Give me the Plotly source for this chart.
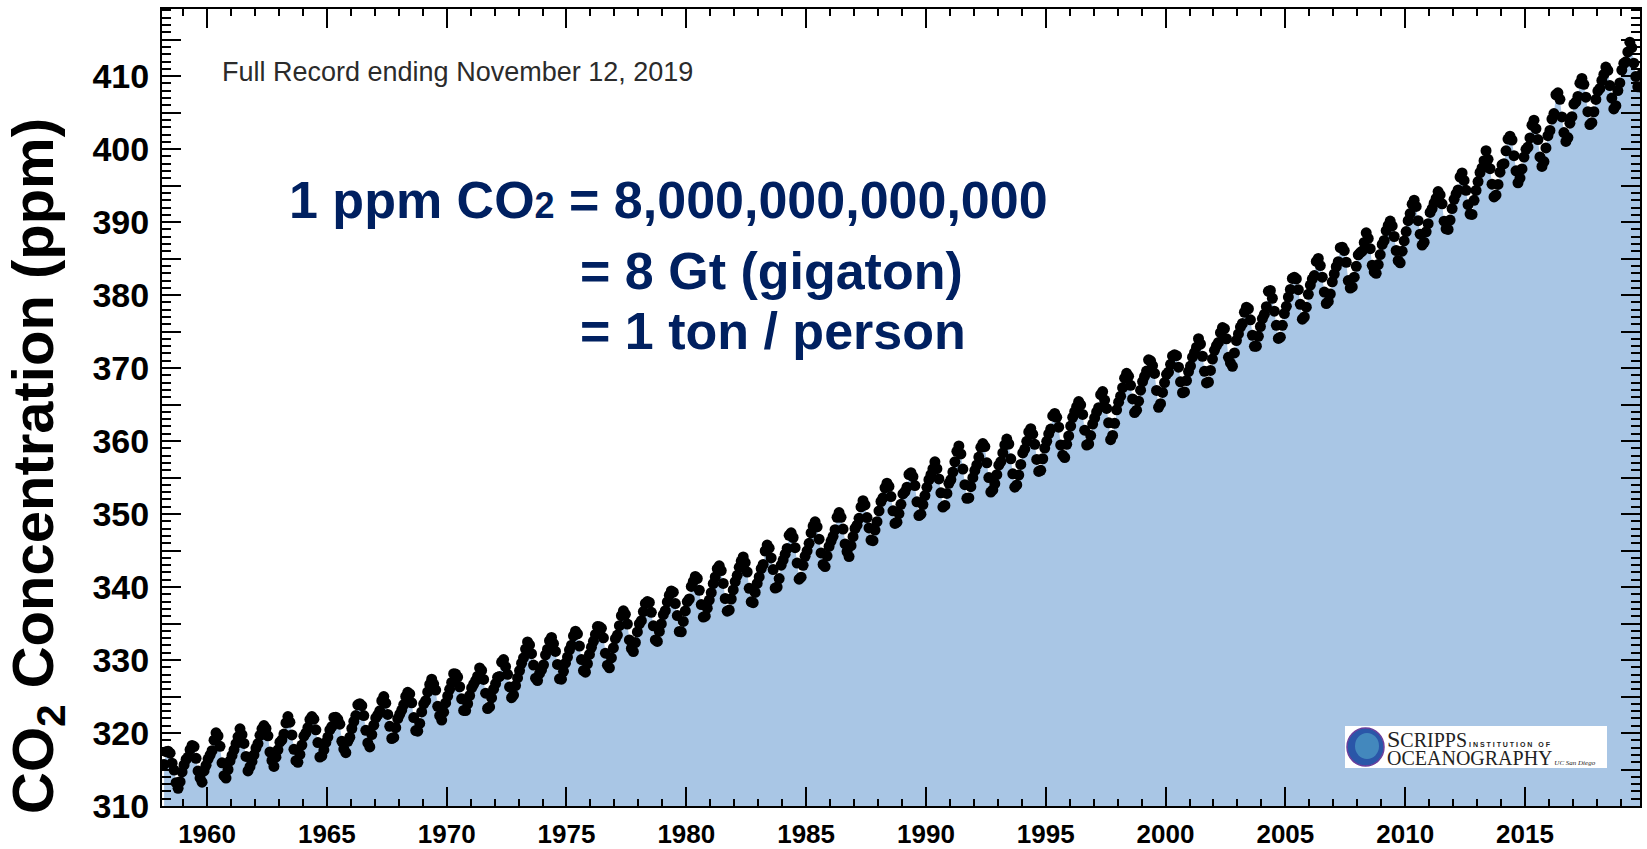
import plotly.graph_objects as go

# Monthly mean CO2 (ppm), Mauna Loa, starting March 1958
co2_1958_1959 = [315.70, 317.45, 317.51, 317.24, 315.86, 314.93, 313.20, 312.43, 313.33, 314.67,
                 315.62, 316.38, 316.71, 317.72, 318.29, 318.15, 316.54, 314.80, 313.84, 313.26, 314.80, 315.58]
co2_1960s = [316.43, 316.97, 317.58, 319.02, 320.03, 319.59, 318.18, 315.91, 314.16, 313.83, 315.00, 316.19,
             316.93, 317.70, 318.54, 319.48, 320.58, 319.77, 318.57, 316.79, 314.80, 315.38, 316.10, 317.01,
             317.94, 318.55, 319.68, 320.57, 321.02, 320.62, 319.61, 317.40, 316.25, 315.42, 316.69, 317.70,
             318.74, 319.07, 319.86, 321.38, 322.25, 321.48, 319.74, 317.77, 316.21, 315.99, 317.07, 318.35,
             319.57, 320.01, 320.74, 321.84, 322.26, 321.89, 320.44, 318.69, 316.70, 316.87, 317.68, 318.71,
             319.44, 320.44, 320.89, 322.14, 322.17, 321.87, 321.21, 318.87, 317.81, 317.30, 318.87, 319.42,
             320.62, 321.59, 322.39, 323.87, 324.01, 323.75, 322.39, 320.37, 318.64, 318.10, 319.79, 321.08,
             322.07, 322.50, 323.04, 324.42, 325.00, 324.09, 322.54, 320.92, 319.25, 319.39, 320.73, 321.96,
             322.57, 323.15, 323.89, 325.02, 325.57, 325.36, 324.14, 322.11, 320.33, 320.25, 321.32, 322.89,
             324.00, 324.42, 325.63, 326.66, 327.38, 326.71, 325.88, 323.66, 322.38, 321.78, 322.85, 324.12]
co2_1970s = [325.06, 325.98, 326.93, 328.13, 328.08, 327.67, 326.34, 324.69, 323.10, 323.07, 324.01, 325.13,
             326.17, 326.68, 327.18, 327.78, 328.92, 328.57, 327.34, 325.46, 323.36, 323.57, 324.80, 326.01,
             326.77, 327.63, 327.75, 329.72, 330.07, 329.09, 328.04, 326.32, 324.84, 325.20, 326.50, 327.55,
             328.55, 329.56, 330.30, 331.50, 332.48, 332.07, 330.87, 329.31, 327.51, 327.18, 328.16, 328.64,
             329.35, 330.71, 331.48, 332.65, 333.09, 332.25, 331.18, 329.40, 327.43, 327.37, 328.46, 329.57,
             330.40, 331.40, 332.04, 333.31, 333.96, 333.59, 331.91, 330.06, 328.56, 328.34, 329.49, 330.76,
             331.75, 332.56, 333.50, 334.58, 334.57, 334.34, 333.05, 330.94, 329.30, 328.94, 330.31, 331.68,
             332.93, 333.42, 334.70, 336.07, 336.74, 336.27, 334.93, 332.75, 331.58, 331.16, 332.40, 333.85,
             334.97, 335.39, 336.64, 337.76, 338.01, 337.89, 336.54, 334.68, 332.76, 332.55, 333.92, 334.95,
             336.23, 336.76, 337.96, 338.89, 339.47, 339.29, 337.73, 336.09, 333.91, 333.86, 335.29, 336.73]
co2_1980s = [338.01, 338.36, 340.08, 340.77, 341.46, 341.17, 339.56, 337.60, 335.88, 336.01, 337.10, 338.21,
             339.23, 340.47, 341.38, 342.51, 342.91, 342.25, 340.49, 338.43, 336.69, 336.85, 338.36, 339.61,
             340.75, 341.61, 342.70, 343.56, 344.13, 343.35, 342.06, 339.82, 337.97, 337.86, 339.26, 340.49,
             341.38, 342.52, 343.10, 344.94, 345.75, 345.32, 343.99, 342.39, 339.86, 339.99, 341.16, 342.99,
             343.70, 344.51, 345.28, 347.08, 347.43, 346.79, 345.40, 343.28, 341.07, 341.35, 342.98, 344.22,
             344.97, 345.99, 347.42, 348.35, 348.93, 348.25, 346.56, 344.67, 343.09, 342.80, 344.24, 345.56,
             346.30, 346.95, 347.85, 349.55, 350.21, 349.55, 347.94, 345.91, 344.86, 344.17, 345.66, 346.90,
             348.02, 348.47, 349.42, 350.99, 351.84, 351.25, 349.52, 348.10, 346.44, 346.36, 347.81, 348.96,
             350.43, 351.72, 352.22, 353.59, 354.22, 353.79, 352.39, 350.44, 348.72, 348.88, 350.07, 351.34,
             352.76, 353.07, 353.68, 355.42, 355.67, 355.12, 353.90, 351.67, 349.80, 349.99, 351.30, 352.53]
co2_1990s = [353.66, 354.70, 355.39, 356.20, 357.16, 356.22, 354.82, 352.91, 350.96, 351.18, 352.83, 354.21,
             354.72, 355.75, 357.16, 358.60, 359.34, 358.24, 356.17, 354.03, 352.16, 352.21, 353.75, 354.99,
             355.98, 356.72, 357.81, 359.15, 359.66, 359.25, 357.02, 355.00, 353.01, 353.31, 354.16, 355.40,
             356.70, 357.17, 358.38, 359.46, 360.28, 359.60, 357.57, 355.52, 353.69, 353.99, 355.34, 356.80,
             358.37, 358.91, 359.97, 361.26, 361.69, 360.94, 359.55, 357.49, 355.84, 356.00, 357.58, 359.04,
             359.97, 361.00, 361.64, 363.45, 363.79, 363.26, 361.90, 359.46, 358.06, 357.75, 359.56, 360.70,
             362.05, 363.25, 364.03, 364.72, 365.41, 364.97, 363.65, 361.49, 359.46, 359.60, 360.76, 362.33,
             363.18, 364.00, 364.57, 366.35, 366.79, 365.62, 364.47, 362.51, 360.19, 360.77, 362.43, 364.28,
             365.33, 366.15, 367.31, 368.61, 369.29, 368.87, 367.64, 365.77, 363.90, 364.23, 365.46, 366.97,
             368.15, 368.87, 369.59, 371.14, 371.00, 370.35, 369.27, 366.94, 364.63, 365.12, 366.67, 368.01]
co2_2000s = [369.14, 369.46, 370.52, 371.66, 371.82, 371.70, 370.12, 368.12, 366.62, 366.73, 368.29, 369.53,
             370.28, 371.50, 372.12, 372.87, 374.02, 373.30, 371.62, 369.55, 367.96, 368.09, 369.68, 371.24,
             372.44, 373.08, 373.52, 374.85, 375.55, 375.40, 374.02, 371.48, 370.70, 370.25, 372.08, 373.78,
             374.68, 375.62, 376.11, 377.65, 378.35, 378.13, 376.62, 374.50, 372.99, 373.00, 374.35, 375.70,
             376.79, 377.37, 378.41, 380.52, 380.63, 379.57, 377.79, 375.86, 374.06, 374.24, 375.86, 377.48,
             378.46, 379.73, 380.77, 382.29, 382.45, 382.21, 380.74, 378.74, 376.70, 377.00, 378.35, 380.11,
             381.38, 382.19, 382.67, 384.61, 385.03, 384.05, 382.46, 380.41, 378.85, 379.13, 380.15, 381.82,
             382.89, 383.90, 384.58, 386.50, 386.56, 386.10, 384.50, 381.99, 380.96, 381.12, 382.45, 383.95,
             385.52, 385.82, 386.03, 387.21, 388.54, 387.76, 386.36, 384.09, 383.18, 382.99, 384.19, 385.56,
             386.94, 387.48, 388.82, 389.55, 390.14, 389.48, 388.03, 386.11, 384.74, 384.43, 386.02, 387.42]
co2_2010s = [388.71, 390.20, 391.17, 392.46, 393.00, 392.15, 390.20, 388.35, 386.85, 387.24, 388.67, 389.79,
             391.33, 391.86, 392.60, 393.25, 394.19, 393.73, 392.51, 390.13, 389.08, 389.00, 390.28, 391.86,
             393.12, 393.86, 394.40, 396.18, 396.74, 395.71, 394.36, 392.39, 391.11, 391.05, 392.98, 394.34,
             395.55, 396.80, 397.43, 398.41, 399.78, 398.60, 397.32, 395.20, 393.45, 393.70, 395.16, 396.84,
             397.85, 398.01, 399.77, 401.38, 401.78, 401.25, 399.10, 397.03, 395.38, 396.03, 397.28, 398.91,
             399.98, 400.28, 401.54, 403.28, 403.96, 402.80, 401.31, 398.93, 397.63, 398.29, 400.16, 401.85,
             402.56, 404.12, 404.87, 407.45, 407.72, 406.83, 404.41, 402.27, 401.05, 401.59, 403.55, 404.45,
             406.17, 406.46, 407.22, 409.04, 409.69, 408.88, 407.12, 405.13, 403.37, 403.63, 405.12, 406.81,
             407.96, 408.32, 409.41, 410.24, 411.24, 410.79, 408.71, 406.99, 405.51, 405.95, 408.02, 409.07,
             410.83, 411.75, 411.97, 413.32, 414.66, 413.92, 411.77, 409.95, 408.54, 408.53, 410.27]

start_year = 1958
start_month = 3

x_tick_years = [1960, 1965, 1970, 1975, 1980, 1985, 1990, 1995, 2000, 2005, 2010, 2015]
y_label_vals = [310, 320, 330, 340, 350, 360, 370, 380, 390, 400, 410]
y_half_vals = [315, 325, 335, 345, 355, 365, 375, 385, 395, 405, 415]

co2 = co2_1958_1959 + co2_1960s + co2_1970s + co2_1980s + co2_1990s + co2_2000s + co2_2010s
dates = [start_year + (start_month - 1 + i + 0.5) / 12.0 for i in range(len(co2))]

FILL = "#a9c6e5"
NAVY = "#002060"
SANS = "Liberation Sans, Arial, Helvetica, sans-serif"
SERIF = "Liberation Serif, Times New Roman, serif"
X_RANGE = [1958.12, 2019.80]
Y_RANGE = [310, 419.2]

fig = go.Figure()
fig.add_trace(go.Scatter(x=dates, y=co2, mode="lines", line=dict(width=0, color=FILL),
                         fill="tozeroy", fillcolor=FILL, hoverinfo="skip"))
fig.add_trace(go.Scatter(x=dates, y=co2, mode="markers",
                         marker=dict(size=11, color="black", line=dict(width=0))))
# invisible trace on helper axis carrying the 5-ppm long ticks
fig.add_trace(go.Scatter(x=[X_RANGE[0]], y=[Y_RANGE[0]], yaxis="y2", mode="markers",
                         marker=dict(size=1, opacity=0), hoverinfo="skip"))

# pixel -> paper helpers for decorations
L, R, T, B = 162, 1640, 9, 806
def px(xp):
    return (xp - L) / (R - L)
def py(yp):
    return (B - yp) / (B - T)

fig.update_layout(
    width=1647, height=849,
    margin=dict(l=L, r=1647 - R, t=T, b=849 - B, autoexpand=False),
    plot_bgcolor="white", paper_bgcolor="white",
    showlegend=False,
    font=dict(family=SANS, color="black"),
    xaxis=dict(
        range=X_RANGE, automargin=False,
        tickmode="array", tickvals=x_tick_years, ticktext=[str(v) for v in x_tick_years],
        ticks="inside", ticklen=19, tickwidth=2, tickcolor="black",
        showline=True, linecolor="black", linewidth=2, mirror="ticks",
        showgrid=False, zeroline=False,
        tickfont=dict(family=SANS, size=26, color="black", weight="bold"),
        ticklabelstandoff=4,
        minor=dict(dtick=1, tick0=1958, ticks="inside", ticklen=7, tickwidth=2,
                   tickcolor="black", showgrid=False),
    ),
    yaxis=dict(
        range=Y_RANGE, automargin=False,
        tickmode="array", tickvals=y_label_vals, ticktext=[str(v) for v in y_label_vals],
        ticks="inside", ticklen=19, tickwidth=2, tickcolor="black",
        showline=True, linecolor="black", linewidth=2, mirror="ticks",
        showgrid=False, zeroline=False,
        tickfont=dict(family=SANS, size=34, color="black", weight="bold"),
        ticklabelstandoff=4,
        minor=dict(dtick=1, tick0=310, ticks="inside", ticklen=9, tickwidth=2,
                   tickcolor="black", showgrid=False),
    ),
    yaxis2=dict(
        range=Y_RANGE, overlaying="y", side="left", automargin=False,
        tickmode="array", tickvals=y_half_vals, showticklabels=False,
        ticks="inside", ticklen=19, tickwidth=2, tickcolor="black",
        showline=False, mirror="ticks", showgrid=False, zeroline=False,
    ),
)

ann = []
ann.append(dict(text="CO<sub>2</sub> Concentration (ppm)", textangle=-90,
                xref="paper", yref="paper", x=px(37), y=py(466),
                xanchor="center", yanchor="middle", showarrow=False,
                font=dict(family=SANS, size=58, color="black", weight="bold")))
ann.append(dict(text="Full Record ending November 12, 2019",
                xref="paper", yref="paper", x=px(220), y=py(71.5),
                xanchor="left", yanchor="middle", showarrow=False,
                font=dict(family=SANS, size=27, color="#2b2b2b")))
ann.append(dict(text="1 ppm CO<span style='font-size:36px'>2</span> = 8,000,000,000,000",
                xref="paper", yref="paper", x=px(287), y=py(200),
                xanchor="left", yanchor="middle", showarrow=False,
                font=dict(family=SANS, size=52, color=NAVY, weight="bold")))
ann.append(dict(text="= 8 Gt (gigaton)",
                xref="paper", yref="paper", x=px(578), y=py(271),
                xanchor="left", yanchor="middle", showarrow=False,
                font=dict(family=SANS, size=52, color=NAVY, weight="bold")))
ann.append(dict(text="= 1 ton / person",
                xref="paper", yref="paper", x=px(578), y=py(331),
                xanchor="left", yanchor="middle", showarrow=False,
                font=dict(family=SANS, size=52, color=NAVY, weight="bold")))

# Scripps logo (single text block; line spacing follows the 14px base size)
logo_text = ("<span style='font-size:24px'>S</span><span style='font-size:20px'>CRIPPS</span>"
             "<span style='font-size:7px;font-family:Liberation Sans;font-weight:bold'> I N S T I T U T I O N &nbsp; O F</span>"
             "<br><span style='font-size:20px'>OCEANOGRAPHY</span>"
             "<span style='font-size:7px'><i> UC San Diego</i></span>")
ann.append(dict(text=logo_text, align="left",
                xref="paper", yref="paper", x=px(1386), y=py(747),
                xanchor="left", yanchor="middle", showarrow=False, borderpad=0,
                font=dict(family=SERIF, size=14, color="#222222")))
fig.update_layout(annotations=ann)

shapes = []
shapes.append(dict(type="rect", xref="paper", yref="paper",
                   x0=px(1345), x1=px(1607), y0=py(768), y1=py(726),
                   fillcolor="white", line=dict(width=0)))
shapes.append(dict(type="circle", xref="paper", yref="paper",
                   x0=px(1347), x1=px(1384), y0=py(766), y1=py(728),
                   fillcolor="#2a56a8", line=dict(width=1.5, color="#6a3f9c")))
shapes.append(dict(type="circle", xref="paper", yref="paper",
                   x0=px(1355), x1=px(1379), y0=py(759), y1=py(733),
                   fillcolor="#55aacb", opacity=0.6, line=dict(width=0)))
fig.update_layout(shapes=shapes)

fig.write_html("out.html", config={"displayModeBar": False},
               post_script="document.body.style.margin='0';")
